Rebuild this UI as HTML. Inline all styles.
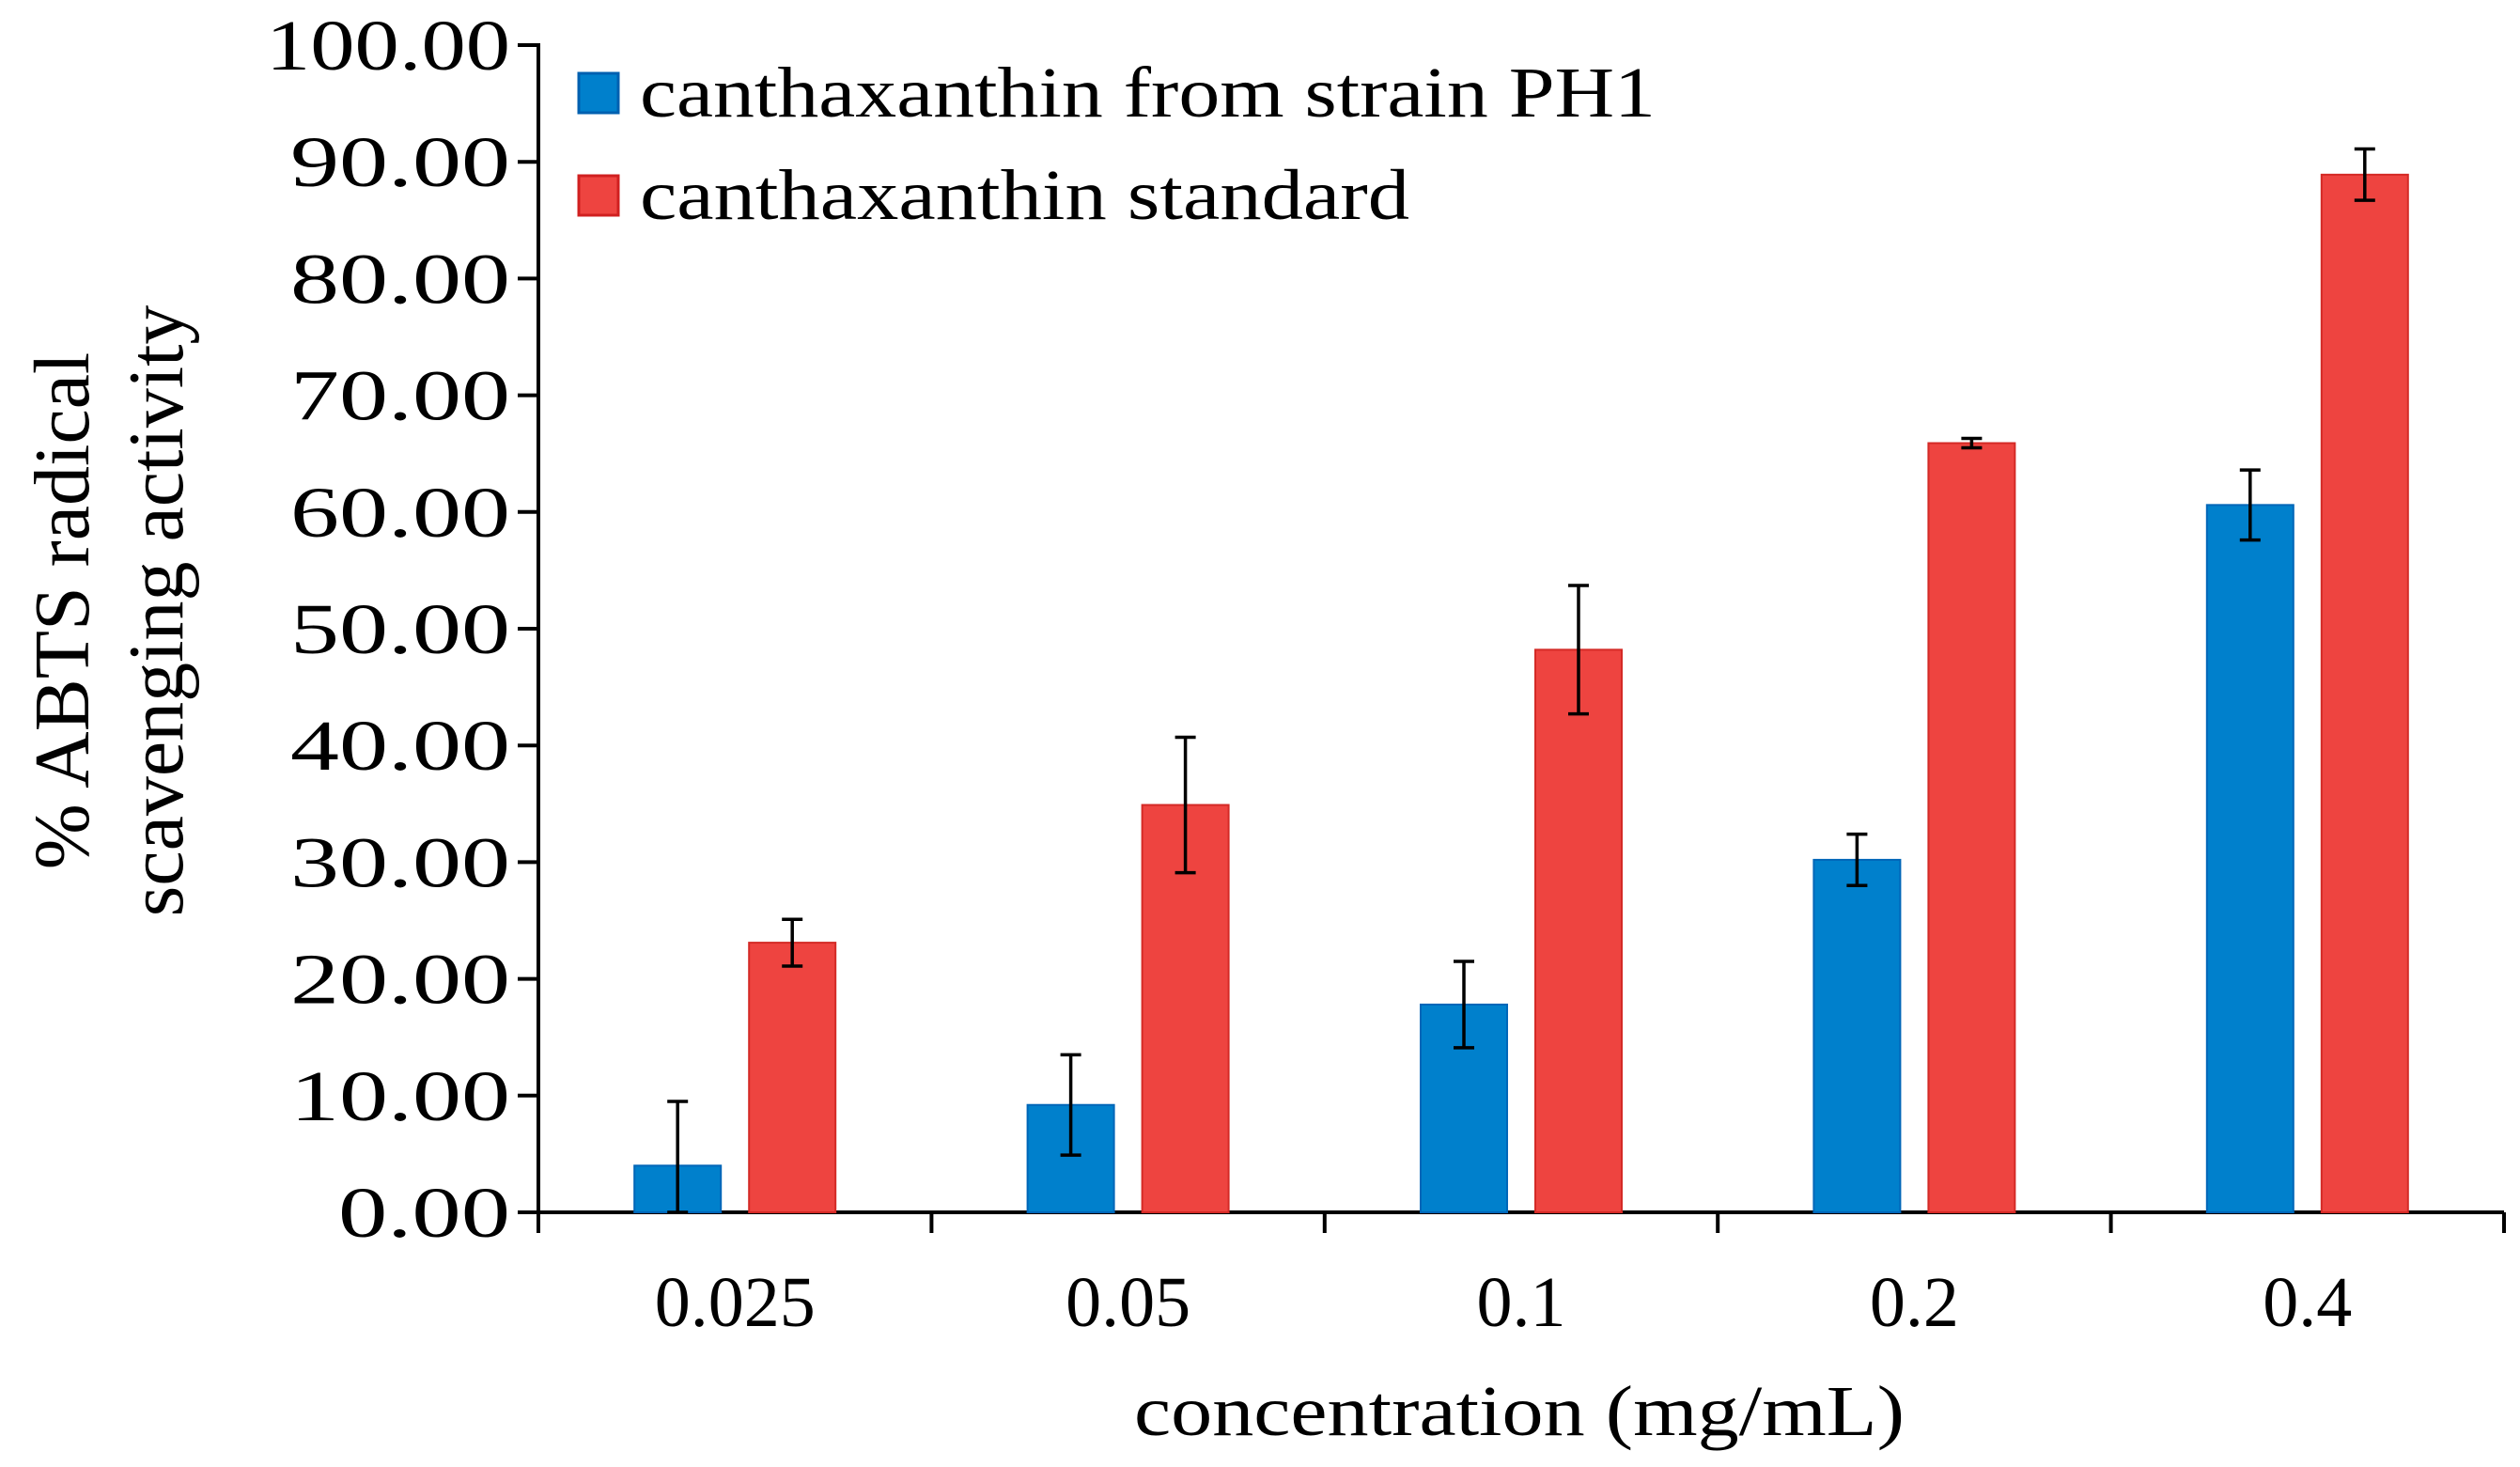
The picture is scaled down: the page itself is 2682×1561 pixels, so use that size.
<!DOCTYPE html>
<html><head><meta charset="utf-8"><style>html,body{margin:0;padding:0;background:#fff}svg{display:block}text{font-family:"Liberation Serif",serif;fill:#000}</style></head>
<body>
<svg id="chart" width="2682" height="1561" viewBox="0 0 2682 1561" xmlns="http://www.w3.org/2000/svg">
<g id="axes"></g><g id="bars"></g>
<g>
<rect x="616" y="78" width="42" height="42" fill="#0080cc" stroke="#0060b0" stroke-width="3"/>
<text x="681" y="124" font-size="76" textLength="1081" lengthAdjust="spacingAndGlyphs">canthaxanthin from strain PH1</text>
<rect x="616" y="187" width="42" height="42" fill="#ee4440" stroke="#d02020" stroke-width="3"/>
<text x="681" y="233" font-size="76" textLength="819" lengthAdjust="spacingAndGlyphs">canthaxanthin standard</text>
</g>
<text transform="translate(94,650) rotate(-90)" text-anchor="middle" font-size="84">% ABTS radical</text>
<text transform="translate(194,650) rotate(-90)" text-anchor="middle" font-size="84">scavenging activity</text>
<text x="1617" y="1527" text-anchor="middle" font-size="76" textLength="820" lengthAdjust="spacingAndGlyphs">concentration (mg/mL)</text>
</svg>
<script>
const categories=["0.025","0.05","0.1","0.2","0.4"];
const ph1Values=[4.0,9.2,17.8,30.2,60.6];
const ph1Errors=[5.5,4.3,3.7,2.2,3.0];
const stdValues=[23.1,34.9,48.2,65.9,88.9];
const stdErrors=[2.0,5.8,5.5,0.4,2.2];
const yTicks=[0,10,20,30,40,50,60,70,80,90,100];

const NS="http://www.w3.org/2000/svg";
const X0=573,X1=2665,Y0=1290,Y100=48;
const catW=(X1-X0)/categories.length;
function y(v){return Y0-(v/100)*(Y0-Y100);}
function xc(i){return X0+catW*(i+0.5);}
function mk(tag,attrs,parent){const e=document.createElementNS(NS,tag);for(const k in attrs)e.setAttribute(k,attrs[k]);parent.appendChild(e);return e;}
const axes=document.getElementById('axes'),bars=document.getElementById('bars');

let e=mk('line',{x1:X0,y1:Y100-2,x2:X0,y2:Y0+20,stroke:'#000','stroke-width':4},axes);


e=mk('line',{x1:X0,y1:Y0,x2:X1,y2:Y0,stroke:'#000','stroke-width':4},axes);


yTicks.forEach(t=>{
  const yy=y(t);
  let l=mk('line',{x1:X0-22,y1:yy,x2:X0,y2:yy,stroke:'#000','stroke-width':4},axes);
  
  
  const s=t.toFixed(2);
  let tx=mk('text',{x:X0-30,y:yy+26,'text-anchor':'end','font-size':76,textLength:(s.length===6?260:(s.length===5?234:183)),lengthAdjust:'spacingAndGlyphs'},axes);
  tx.textContent=s;
  
  
});
for(let i=0;i<=categories.length;i++){
  const xx=X0+catW*i;
  let l=mk('line',{x1:xx,y1:Y0,x2:xx,y2:Y0+22,stroke:'#000','stroke-width':4},axes);
  
  
}
categories.forEach((c,i)=>{
  let tx=mk('text',{x:xc(i),y:1411,'text-anchor':'middle','font-size':76},axes);
  tx.textContent=c;
  
  
});
const BW=92,OFF=61;
function drawBar(cx,v,err,fill,stroke,name){
  let r=mk('rect',{x:cx-BW/2,y:y(v),width:BW,height:Y0-y(v),fill:fill,stroke:stroke,'stroke-width':2},bars);
  
  
  const top=y(v+err),bot=y(Math.max(0,v-err));
  let g=mk('path',{d:`M${cx},${top}V${bot}M${cx-11},${top}H${cx+11}M${cx-11},${bot}H${cx+11}`,stroke:'#000','stroke-width':3.5,fill:'none'},bars);
  
  
}
categories.forEach((c,i)=>{
  drawBar(xc(i)-OFF,ph1Values[i],ph1Errors[i],'#0080cc','#0066b8','bar-ph1-'+c);
  drawBar(xc(i)+OFF,stdValues[i],stdErrors[i],'#ee4440','#d42a26','bar-standard-'+c);
});
</script>
</body></html>
